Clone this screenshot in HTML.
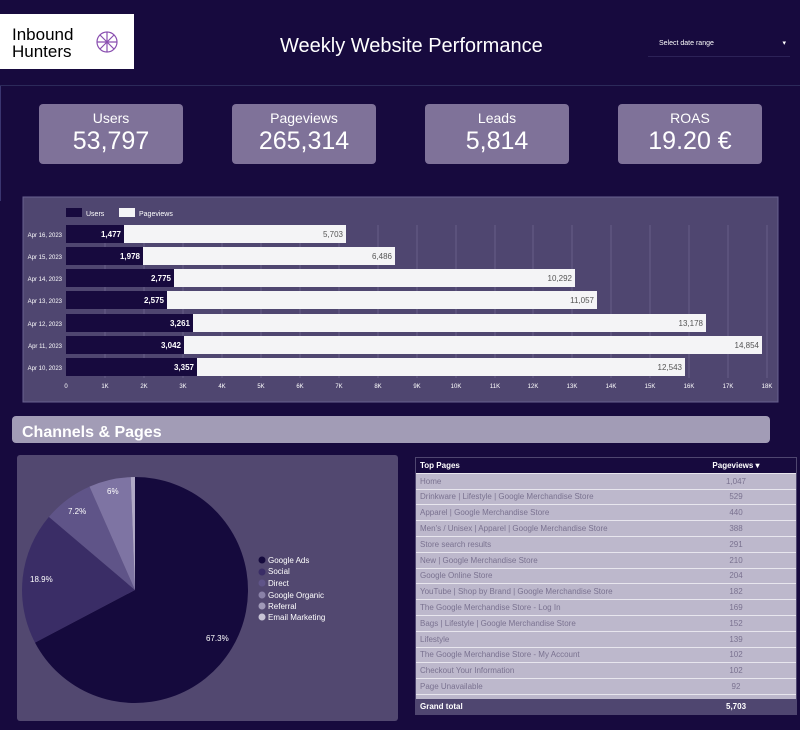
<!DOCTYPE html>
<html><head><meta charset="utf-8"><style>
body{margin:0;width:800px;height:730px;background:#170a3e;font-family:"Liberation Sans",sans-serif;overflow:hidden;position:relative}
.card{position:absolute;top:104px;width:144px;height:60px;background:#7f7299;border-radius:4px;color:#fff;text-align:center}
.card .t{font-size:14px;margin-top:6px}.card .v{font-size:25px;margin-top:1px}
table{border-collapse:collapse;width:100%;font-size:8px}
td{padding:0 4px;height:14.8px;color:#7a7290;border-bottom:1px solid #e8e6ee;background:#bdb8cc}
td.n{text-align:center;width:60px;padding-right:30px}
</style></head><body>
<div style="position:absolute;left:0;top:14px;width:134px;height:55px;background:#fff">
<div style="position:absolute;left:12px;top:12px;font-size:17px;line-height:17px;color:#000">Inbound<br>Hunters</div>
<svg style="position:absolute;left:89px;top:14px" width="36" height="28"><g fill="none" stroke="#8a4fb0" stroke-width="1.2"><circle cx="18" cy="14" r="10"/><path d="M8 14L28 14M18 4L18 24M11 7L25 21M25 7L11 21"/></g></svg></div>
<div style="position:absolute;left:280px;top:35px;color:#fff;font-size:20px">Weekly Website Performance</div>
<div style="position:absolute;left:648px;top:30px;width:142px;height:27px;border-bottom:1px solid #2c2257;color:#fff;font-size:7px;line-height:27px;padding-left:11px;box-sizing:border-box">Select date range<span style="position:absolute;right:4px">▾</span></div>
<div style="position:absolute;left:0;top:85px;width:800px;height:1px;background:#2c2a5a"></div>
<div style="position:absolute;left:0;top:86px;width:1px;height:115px;background:#3a3570"></div>
<div class="card" style="left:39px"><div class="t">Users</div><div class="v">53,797</div></div>
<div class="card" style="left:232px"><div class="t">Pageviews</div><div class="v">265,314</div></div>
<div class="card" style="left:425px"><div class="t">Leads</div><div class="v">5,814</div></div>
<div class="card" style="left:618px"><div class="t">ROAS</div><div class="v">19.20 €</div></div>
<svg style="position:absolute;left:0;top:0" width="800" height="730" font-family="Liberation Sans, sans-serif">
<rect x="23" y="197" width="755" height="205" fill="#4f4670" stroke="#6a6190"/>
<g stroke="#675e88" stroke-width="1">
<line x1="105" y1="225" x2="105" y2="378"/><line x1="144" y1="225" x2="144" y2="378"/><line x1="183" y1="225" x2="183" y2="378"/><line x1="222" y1="225" x2="222" y2="378"/><line x1="261" y1="225" x2="261" y2="378"/><line x1="300" y1="225" x2="300" y2="378"/><line x1="339" y1="225" x2="339" y2="378"/><line x1="378" y1="225" x2="378" y2="378"/><line x1="417" y1="225" x2="417" y2="378"/><line x1="456" y1="225" x2="456" y2="378"/><line x1="495" y1="225" x2="495" y2="378"/><line x1="533" y1="225" x2="533" y2="378"/><line x1="572" y1="225" x2="572" y2="378"/><line x1="611" y1="225" x2="611" y2="378"/><line x1="650" y1="225" x2="650" y2="378"/><line x1="689" y1="225" x2="689" y2="378"/><line x1="728" y1="225" x2="728" y2="378"/><line x1="767" y1="225" x2="767" y2="378"/></g>
<rect x="66" y="208" width="16" height="9" fill="#170a3e"/><text x="86" y="216" fill="#fff" font-size="7">Users</text>
<rect x="119" y="208" width="16" height="9" fill="#f4f4f6"/><text x="139" y="216" fill="#fff" font-size="7">Pageviews</text>
<g font-size="6" fill="#fff" text-anchor="end">
<text x="62" y="237">Apr 16, 2023</text><text x="62" y="259">Apr 15, 2023</text><text x="62" y="281">Apr 14, 2023</text><text x="62" y="303">Apr 13, 2023</text><text x="62" y="326">Apr 12, 2023</text><text x="62" y="348">Apr 11, 2023</text><text x="62" y="370">Apr 10, 2023</text></g>
<g fill="#f4f4f6"><rect x="124" y="225" width="222" height="18"/><rect x="143" y="247" width="252" height="18"/><rect x="174" y="269" width="401" height="18"/><rect x="167" y="291" width="430" height="18"/><rect x="193" y="314" width="513" height="18"/><rect x="184" y="336" width="578" height="18"/><rect x="197" y="358" width="488" height="18"/></g>
<g fill="#170a3e"><rect x="66" y="225" width="58" height="18"/><rect x="66" y="247" width="77" height="18"/><rect x="66" y="269" width="108" height="18"/><rect x="66" y="291" width="101" height="18"/><rect x="66" y="314" width="127" height="18"/><rect x="66" y="336" width="118" height="18"/><rect x="66" y="358" width="131" height="18"/></g>
<g font-size="8" text-anchor="end" fill="#fff" font-weight="bold"><text x="121" y="237">1,477</text><text x="140" y="259">1,978</text><text x="171" y="281">2,775</text><text x="164" y="303">2,575</text><text x="190" y="326">3,261</text><text x="181" y="348">3,042</text><text x="194" y="370">3,357</text></g>
<g font-size="8" text-anchor="end" fill="#555"><text x="343" y="237">5,703</text><text x="392" y="259">6,486</text><text x="572" y="281">10,292</text><text x="594" y="303">11,057</text><text x="703" y="326">13,178</text><text x="759" y="348">14,854</text><text x="682" y="370">12,543</text></g>
<g font-size="6" fill="#fff" text-anchor="middle"><text x="66" y="388">0</text><text x="105" y="388">1K</text><text x="144" y="388">2K</text><text x="183" y="388">3K</text><text x="222" y="388">4K</text><text x="261" y="388">5K</text><text x="300" y="388">6K</text><text x="339" y="388">7K</text><text x="378" y="388">8K</text><text x="417" y="388">9K</text><text x="456" y="388">10K</text><text x="495" y="388">11K</text><text x="533" y="388">12K</text><text x="572" y="388">13K</text><text x="611" y="388">14K</text><text x="650" y="388">15K</text><text x="689" y="388">16K</text><text x="728" y="388">17K</text><text x="767" y="388">18K</text></g>
<rect x="12" y="416" width="758" height="27" rx="4" fill="#a29cb6"/>
<text x="22" y="437" fill="#fff" font-size="16" font-weight="bold">Channels &amp; Pages</text>
<rect x="17" y="455" width="381" height="266" rx="3" fill="#524870"/>
<path d="M135 590L135 477A113 113 0 1 1 35 642.6Z" fill="#150a3d"/>
<path d="M135 590L35 642.6A113 113 0 0 1 48.9 516.9Z" fill="#3a2d66"/>
<path d="M135 590L48.9 516.9A113 113 0 0 1 89.5 486.6Z" fill="#5f5488"/>
<path d="M135 590L89.5 486.6A113 113 0 0 1 130.7 477.1Z" fill="#7e74a3"/>
<path d="M135 590L130.7 477.1A113 113 0 0 1 135 477Z" fill="#b0a9c6"/>
<g fill="#fff" font-size="8"><text x="206" y="641">67.3%</text><text x="30" y="582">18.9%</text><text x="68" y="514">7.2%</text><text x="107" y="494">6%</text></g>
<g font-size="8" fill="#fff"><circle cx="262" cy="560" r="3.5" fill="#150a3d"/><text x="268" y="563">Google Ads</text>
<circle cx="262" cy="572" r="3.5" fill="#3a2d66"/><text x="268" y="574">Social</text>
<circle cx="262" cy="583" r="3.5" fill="#5f5488"/><text x="268" y="586">Direct</text>
<circle cx="262" cy="595" r="3.5" fill="#8a82a8"/><text x="268" y="598">Google Organic</text>
<circle cx="262" cy="606" r="3.5" fill="#a09ab8"/><text x="268" y="609">Referral</text>
<circle cx="262" cy="617" r="3.5" fill="#c8c4d6"/><text x="268" y="620">Email Marketing</text></g>
</svg>
<div style="position:absolute;left:415px;top:457px;width:382px;height:258px;overflow:hidden;background:#bdb8cc;border:1px solid #4f4670;box-sizing:border-box">
<table>
<tr><td style="background:#170a3e;color:#fff;font-weight:bold;height:13px">Top Pages</td><td class="n" style="background:#170a3e;color:#fff;font-weight:bold">Pageviews ▾</td></tr>
<tr><td>Home</td><td class="n">1,047</td></tr>
<tr><td>Drinkware | Lifestyle | Google Merchandise Store</td><td class="n">529</td></tr>
<tr><td>Apparel | Google Merchandise Store</td><td class="n">440</td></tr>
<tr><td>Men's / Unisex | Apparel | Google Merchandise Store</td><td class="n">388</td></tr>
<tr><td>Store search results</td><td class="n">291</td></tr>
<tr><td>New | Google Merchandise Store</td><td class="n">210</td></tr>
<tr><td>Google Online Store</td><td class="n">204</td></tr>
<tr><td>YouTube | Shop by Brand | Google Merchandise Store</td><td class="n">182</td></tr>
<tr><td>The Google Merchandise Store - Log In</td><td class="n">169</td></tr>
<tr><td>Bags | Lifestyle | Google Merchandise Store</td><td class="n">152</td></tr>
<tr><td>Lifestyle</td><td class="n">139</td></tr>
<tr><td>The Google Merchandise Store - My Account</td><td class="n">102</td></tr>
<tr><td>Checkout Your Information</td><td class="n">102</td></tr>
<tr><td>Page Unavailable</td><td class="n">92</td></tr>
<tr><td>Womens | Apparel | Google Merchandise Store</td><td class="n">82</td></tr>
</table>
<div style="position:absolute;left:0;bottom:0;width:100%;height:15px;background:#4f4670;color:#fff;font-size:8px;font-weight:bold;line-height:15px"><span style="padding-left:4px">Grand total</span><span style="position:absolute;left:310px">5,703</span></div>
</div>
</body></html>
